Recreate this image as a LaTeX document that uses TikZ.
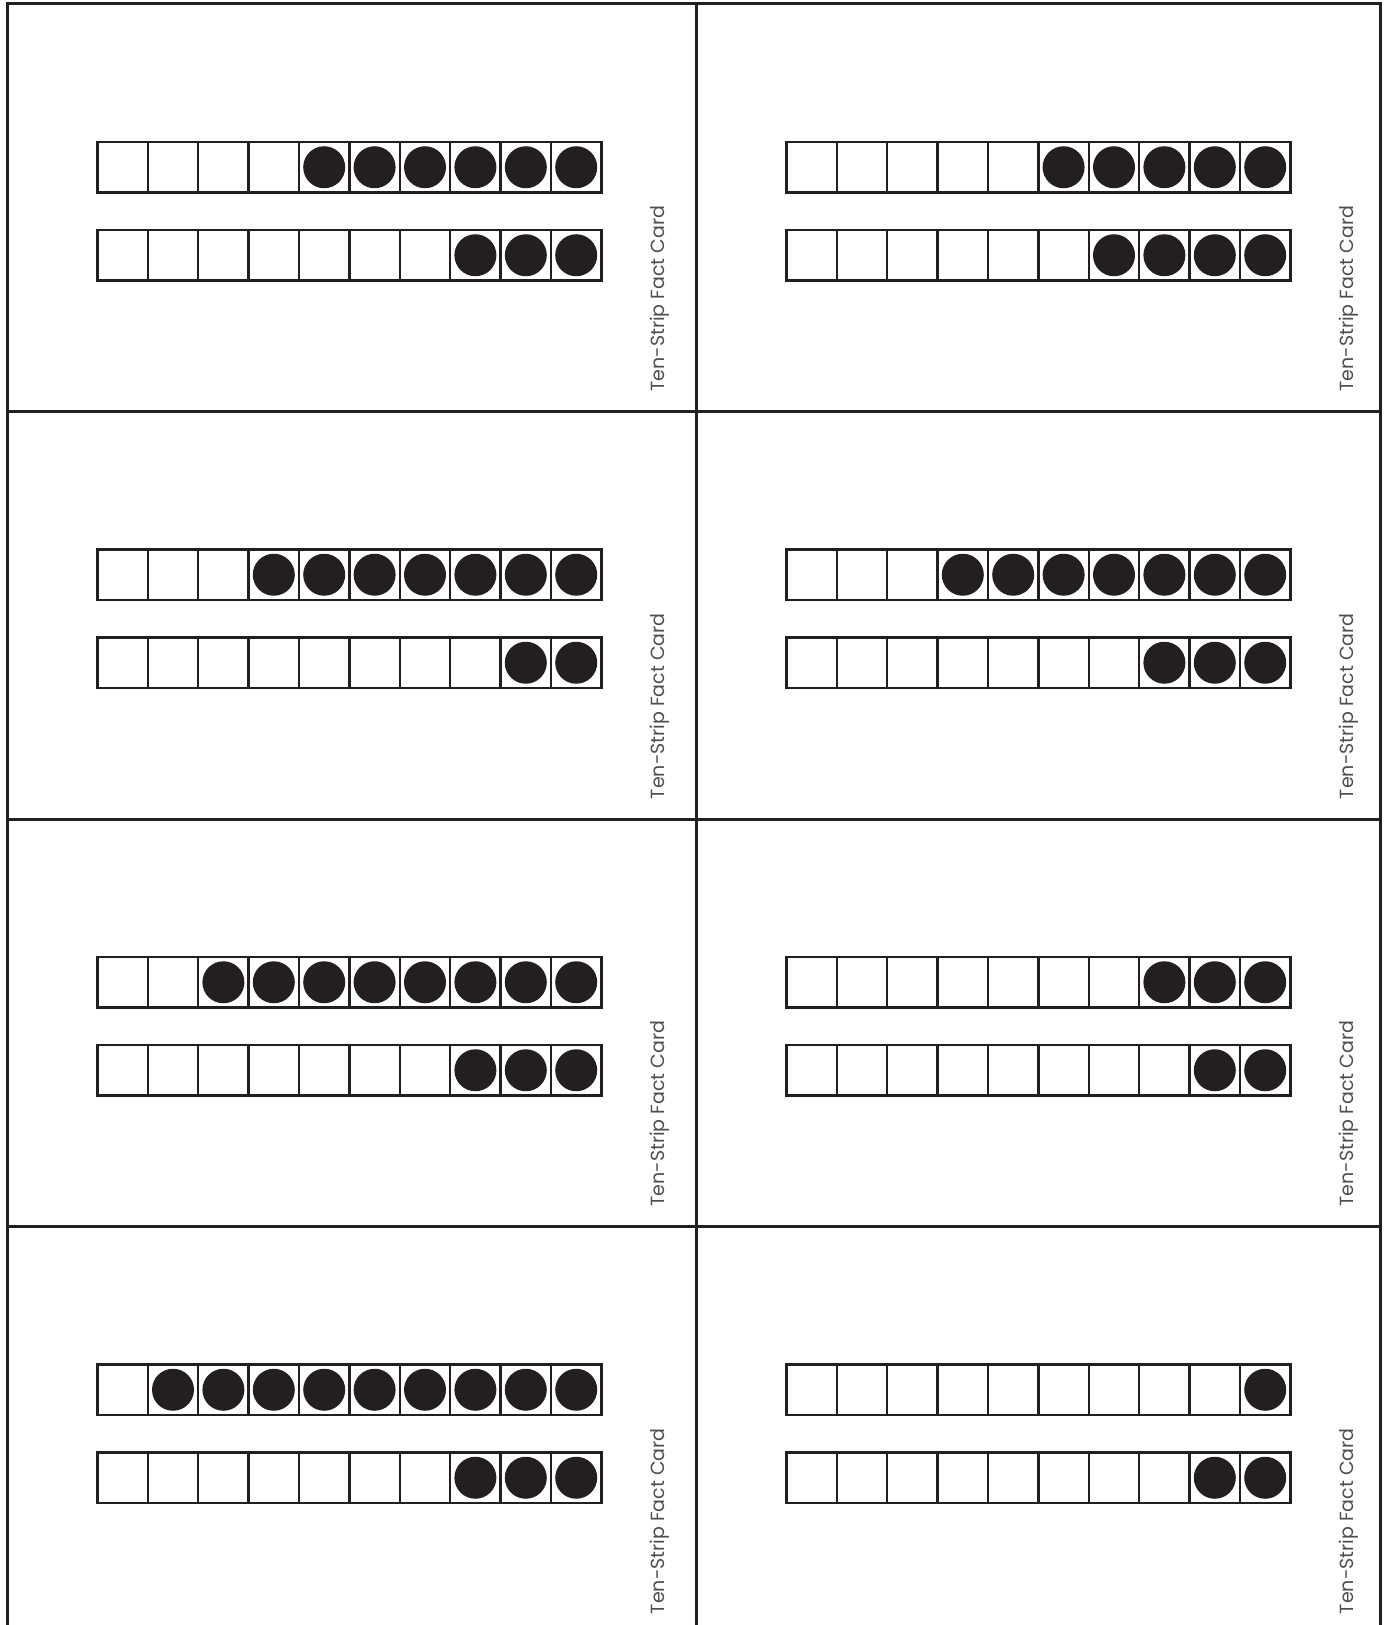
\documentclass[tikz,border=0pt]{standalone}
\usepackage{fontspec}
\setmainfont{Poppins}
\definecolor{ink}{HTML}{231F20}

% one strip of ten cells, the last #3 of them with a dot
\newcommand\tenstrip[3]{%
  \foreach \i in {0,...,9} {
    \draw[cell] ({#1+50.4*\i},{#2}) rectangle ++(50.4,50.5);
  }
  \foreach \i in {1,...,#3} {
    \fill[dot] ({#1+50.4*(10-\i)+25.2},{#2+25.25}) circle[radius=10.5pt];
  }
}

\begin{document}
\begin{tikzpicture}[x=0.5pt, y=-0.5pt,
    frame/.style={draw=ink, line width=1.5pt},
    cell/.style={draw=ink, line width=1.2pt},
    dot/.style={fill=ink},
    cardlabel/.style={rotate=90, anchor=west, inner sep=0pt, text=ink!80,
      font=\fontsize{9.5}{11}\selectfont}
]
\useasboundingbox (0,0) rectangle (1388,1625);
\clip (0,0) rectangle (1388,1625);

% Card grid
\draw[frame] (7,1640) -- (7,4) -- (1380,4) -- (1380,1640);
\draw[frame] (696,4) -- (696,1640);
\foreach \k in {1,2,3}
  \draw[frame] (7,{4+407.5*\k}) -- (1380,{4+407.5*\k});

% Cards: column/row/dots on top strip/dots on bottom strip
\foreach \col/\row/\top/\bot in {0/0/6/3, 1/0/5/4, 0/1/7/2, 1/1/7/3,
                                 0/2/8/3, 1/2/3/2, 0/3/9/3, 1/3/1/2} {
  \pgfmathsetmacro\cx{7+689*\col}
  \pgfmathsetmacro\cy{4+407.5*\row}
  \tenstrip{\cx+90.4}{\cy+138}{\top}
  \tenstrip{\cx+90.4}{\cy+226}{\bot}
  \node[cardlabel] (label-\col-\row) at ({\cx+653},{\cy+388}) {Ten-Strip Fact Card};
}

\end{tikzpicture}
\end{document}
